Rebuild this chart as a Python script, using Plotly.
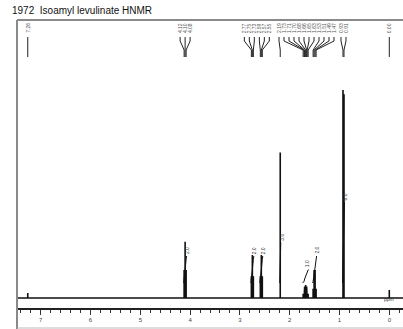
import plotly.graph_objects as go

# ---- spectrum data (1H NMR, CDCl3) ----
peak_ppm = [7.26,
            4.12, 4.10, 4.08,
            2.77, 2.75, 2.73,
            2.59, 2.57, 2.55,
            2.19,
            1.73, 1.71, 1.70, 1.68, 1.66, 1.65, 1.63,
            1.53, 1.51, 1.49, 1.47,
            0.93, 0.91,
            0.00]
peak_height = [2.4,
               13.5, 27.0, 13.5,
               10.5, 20.7, 10.5,
               10.5, 20.7, 10.5,
               70.0,
               2.0, 4.0, 5.5, 6.3, 5.5, 4.0, 2.0,
               4.5, 13.5, 13.5, 4.5,
               100.0, 98.0,
               3.8]

# integration regions
integral_hi = [4.13, 2.78, 2.60, 2.20, 1.74, 1.54, 0.94]
integral_lo = [4.07, 2.72, 2.54, 2.18, 1.62, 1.46, 0.90]
integral_value = [2.0, 2.0, 2.0, 3.0, 1.0, 2.0, 6.0]

axis_ticks = [7, 6, 5, 4, 3, 2, 1, 0]
title_text = "1972  Isoamyl levulinate HNMR"

# ---- page geometry ----
W, H = 403, 329
ML, MT, MB = 17, 20, 21
PH = H - MT - MB          # plot height in px
X_RANGE = [7.476, -0.275]
PX_PER_PPM = (W - ML) / (X_RANGE[0] - X_RANGE[1])
BASE_OFF = 10             # baseline height above the ruler (px)
PX_PER_UNIT = 2.08
Y_RANGE = [-BASE_OFF / PX_PER_UNIT, (PH - BASE_OFF) / PX_PER_UNIT]
FONT = "Liberation Sans"


def pyp(ypix):
    """page pixel row -> paper fraction"""
    return (H - MB - ypix) / PH


fig = go.Figure()

# stick spectrum with baseline
order = sorted(range(len(peak_ppm)), key=lambda i: -peak_ppm[i])
xs, ys = [X_RANGE[0]], [0.0]
for i in order:
    p, h = peak_ppm[i], peak_height[i]
    xs += [p, p, p]
    ys += [0.0, h, 0.0]
xs.append(X_RANGE[1])
ys.append(0.0)
fig.add_trace(go.Scatter(x=xs, y=ys, mode="lines",
                         line=dict(color="#111", width=1.6),
                         hoverinfo="skip", showlegend=False))

# integral curves + values
INT_OFFSET = 15 / PX_PER_UNIT
INT_PER_H = 13.5 / PX_PER_UNIT
annotations = []
for hi, lo, val in zip(integral_hi, integral_lo, integral_value):
    idx = [i for i in order if lo <= peak_ppm[i] <= hi]
    tot = sum(peak_height[i] for i in idx)
    rise = val * INT_PER_H
    ix, iy = [hi], [INT_OFFSET]
    cum = 0.0
    for i in idx:
        ix.append(peak_ppm[i])
        iy.append(INT_OFFSET + rise * (cum + peak_height[i] / 2) / tot)
        cum += peak_height[i]
    ix.append(lo)
    iy.append(INT_OFFSET + rise)
    fig.add_trace(go.Scatter(x=ix, y=iy, mode="lines",
                             line=dict(color="#111", width=1),
                             hoverinfo="skip", showlegend=False))
    annotations.append(dict(x=(hi + lo) / 2 - 0.03, y=INT_OFFSET + rise,
                            xref="x", yref="y", text=f"{val:.1f}",
                            textangle=-90, showarrow=False,
                            xanchor="center", yanchor="bottom",
                            font=dict(family=FONT, size=5, color="#333")))

# peak-pick labels, spread so they don't collide
GAP = 5 / PX_PER_PPM
targets = [peak_ppm[i] for i in order]
clusters = [[t] for t in targets]
changed = True
while changed:
    changed = False
    pos = []
    for c in clusters:
        m = sum(c) / len(c)
        pos.append((m + (len(c) - 1) / 2 * GAP, m - (len(c) - 1) / 2 * GAP))
    for k in range(len(clusters) - 1):
        if pos[k][1] - pos[k + 1][0] < GAP:
            clusters[k] = clusters[k] + clusters[k + 1]
            del clusters[k + 1]
            changed = True
            break
label_x = []
for c in clusters:
    m = sum(c) / len(c)
    for j in range(len(c)):
        label_x.append(m + ((len(c) - 1) / 2 - j) * GAP)

shapes = []
for lx, p in zip(label_x, targets):
    annotations.append(dict(x=lx, y=pyp(35), xref="x", yref="paper",
                            text=f"{p:.2f}", textangle=-90, showarrow=False,
                            xanchor="center", yanchor="bottom",
                            font=dict(family=FONT, size=5, color="#555")))
    path = (f"M {lx},{pyp(37)} L {lx},{pyp(41)} "
            f"L {p},{pyp(50)} L {p},{pyp(57)}")
    shapes.append(dict(type="path", path=path, xref="x", yref="paper",
                       line=dict(color="#222", width=1)))

# frame lines
shapes += [
    dict(type="line", xref="paper", yref="paper", x0=0, x1=1.01,
         y0=1, y1=1, line=dict(color="#8a8a8a", width=2)),
    dict(type="line", xref="paper", yref="paper", x0=0, x1=0,
         y0=1, y1=pyp(H + 2), line=dict(color="#8a8a8a", width=2)),
    dict(type="line", xref="paper", yref="paper", x0=0, x1=1.01,
         y0=pyp(H - 1), y1=pyp(H - 1), line=dict(color="#bbbbbb", width=1)),
]

annotations.append(dict(x=(396 - ML) / (W - ML), y=pyp(304), xref="paper",
                        yref="paper", text="ppm", showarrow=False,
                        font=dict(family=FONT, size=5, color="#333")))

fig.update_layout(
    width=W, height=H,
    margin=dict(l=ML, r=0, t=MT, b=MB, pad=0),
    paper_bgcolor="white", plot_bgcolor="white",
    showlegend=False,
    title=dict(text=title_text, x=12 / W, y=1 - 10 / H, xref="container",
               yref="container", xanchor="left", yanchor="middle",
               font=dict(family=FONT, size=10, color="#111")),
    xaxis=dict(range=X_RANGE, showgrid=False, zeroline=False,
               showline=True, linecolor="#222", linewidth=1.5,
               tickmode="array", tickvals=axis_ticks,
               ticktext=[str(t) for t in axis_ticks],
               ticks="outside", ticklen=5, tickwidth=1, tickcolor="#333",
               minor=dict(dtick=0.2, ticks="outside", ticklen=3,
                          tickwidth=1, tickcolor="#333", tick0=0),
               tickfont=dict(family=FONT, size=6, color="#444")),
    yaxis=dict(range=Y_RANGE, visible=False),
    shapes=shapes,
    annotations=annotations,
)

fig.write_html("out.html")
